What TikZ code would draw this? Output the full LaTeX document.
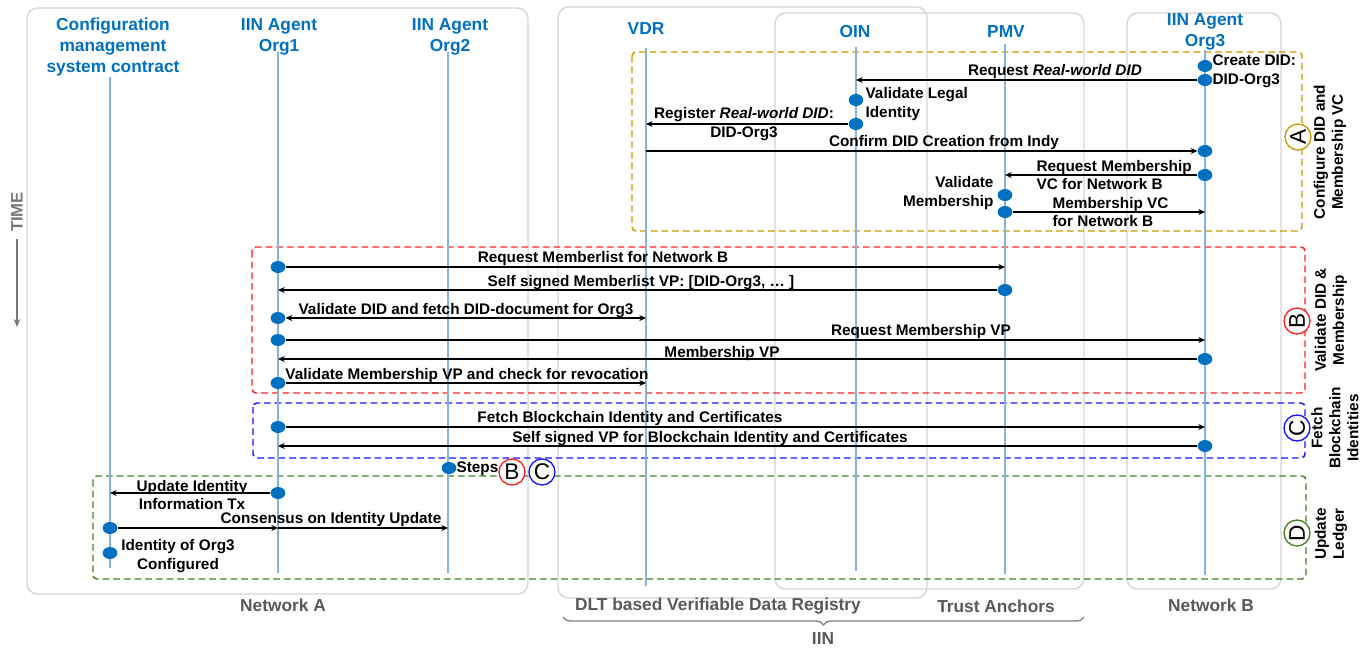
\documentclass[tikz,border=0pt]{standalone}
\usepackage{fontspec}
\setmainfont{Liberation Sans}
\usetikzlibrary{arrows.meta,shapes.geometric,decorations.pathreplacing}

\definecolor{hdblue}{RGB}{0,112,192}
\definecolor{lifeblue}{RGB}{130,180,225}
\definecolor{boxgray}{RGB}{214,214,214}
\definecolor{labgray}{RGB}{89,89,89}
\definecolor{timegray}{RGB}{120,120,120}
\definecolor{phaseA}{RGB}{204,153,0}
\definecolor{phaseB}{RGB}{255,30,30}
\definecolor{phaseC}{RGB}{20,20,255}
\definecolor{phaseD}{RGB}{70,125,40}

\tikzset{
	head/.style={text=hdblue, font=\bfseries\fontsize{13}{16}\selectfont, align=center},
	life/.style={draw=lifeblue, line width=1pt},
	zone/.style={draw=boxgray, line width=1.1pt, rounded corners=8pt},
	zonelabel/.style={text=labgray, font=\bfseries\fontsize{13}{15}\selectfont},
	phase/.style={draw=#1, dash pattern=on 5pt off 3pt, line width=1.1pt, rounded corners=3pt},
	tag/.style={circle, draw=#1, fill=white, line width=1pt, minimum size=19.5pt, inner sep=0pt, font=\fontsize{17}{17}\selectfont},
	dot/.style={ellipse, fill=hdblue, minimum width=11pt, minimum height=9pt, inner sep=0pt},
	msg/.style={draw=black, line width=0.9pt, -{Stealth[length=5pt,width=4.5pt]}},
	dmsg/.style={draw=black, line width=0.9pt, {Stealth[length=5pt,width=4.5pt]}-{Stealth[length=5pt,width=4.5pt]}},
	lbl/.style={font=\bfseries\fontsize{11.5}{14}\selectfont, inner sep=1pt},
	side/.style={font=\bfseries\fontsize{11.5}{13.5}\selectfont, inner sep=1pt, rotate=90, align=center},
}

\begin{document}
\begin{tikzpicture}[x=0.75pt,y=-0.75pt]
	\useasboundingbox (0,0) rectangle (1371,650);

	% Zones
	\draw[zone] (27,8) rectangle (528,594);
	\draw[zone] (558,7) rectangle (927,598);
	\draw[zone] (775,13) rectangle (1084,589);
	\draw[zone] (1127,13) rectangle (1281,589);
	\node[zonelabel] (netA) at (283,605) {Network A};
	\node[zonelabel] (dlt) at (718,606) {DLT based Verifiable Data Registry};
	\node[zonelabel] (trust) at (996,606) {Trust Anchors};
	\node[zonelabel] (netB) at (1211,605) {Network B};
	\draw[draw=gray, line width=1pt, decorate, decoration={brace, amplitude=6pt, mirror}] (563,617) -- (1084,617);
	\node[zonelabel] (iin) at (823,639) {IIN};

	% Phases
	\draw[phase=phaseA] (632,52) rectangle (1302,231);
	\draw[phase=phaseB] (252,247) rectangle (1305,393);
	\draw[phase=phaseC] (253,403) rectangle (1305,458);
	\draw[phase=phaseD] (93,476) rectangle (1306,579);

	% Lifelines
	\foreach \n/\x/\t/\b in {cfg/110/77/568, orgA/278/52/573, orgB/448/52/573, vdr/646/48/586, oin/856/47/571, pmv/1005/44/574, orgC/1205/50/575}
		\draw[life] (\x,\t) coordinate (\n) -- (\x,\b) coordinate (\n-end);

	% Headers
	\node[head] (cfg-head) at (113,47) {Configuration\\management\\system contract};
	\node[head] (orgA-head) at (279,37) {IIN Agent\\Org1};
	\node[head] (orgB-head) at (450,37) {IIN Agent\\Org2};
	\node[head] (vdr-head) at (646,29) {VDR};
	\node[head] (oin-head) at (855,32) {OIN};
	\node[head] (pmv-head) at (1006,32) {PMV};
	\node[head] (orgC-head) at (1205,32) {IIN Agent\\Org3};

	% Time axis
	\node[rotate=90, text=timegray, font=\bfseries\fontsize{12.5}{14}\selectfont] (time) at (17,212) {TIME};
	\coordinate (time-end) at (17,327);
	\draw[timegray, line width=1.2pt, -{Stealth[length=6pt,width=5pt]}, shorten <=2pt] (time.west) -- (time-end);

	% Phase A: configure DID and membership VC
	\node[dot] (a1) at (1205,66) {};
	\node[dot] (a2) at (1205,80) {};
	\node[lbl, anchor=west, align=left] at (1211,71) {Create DID:\\DID-Org3};
	\draw[msg] (a2) -- (a2 -| oin);
	\node[lbl] at (1055,72) {Request \textit{Real-world DID}};
	\node[dot] (a3) at (856,100) {};
	\node[lbl, anchor=west, align=left] at (864,104) {Validate Legal\\Identity};
	\node[dot] (a4) at (856,124) {};
	\draw[msg] (a4) -- (a4 -| vdr);
	\node[lbl, align=center] at (744,124) {Register \textit{Real-world DID}:\\DID-Org3};
	\node[dot] (a5) at (1205,151) {};
	\draw[msg] (a5 -| vdr) -- (a5);
	\node[lbl] at (944,143) {Confirm DID Creation from Indy};
	\node[dot] (a6) at (1205,175) {};
	\draw[msg] (a6) -- (a6 -| pmv);
	\node[lbl, anchor=west, align=left] at (1035,175) {Request Membership\\VC for Network B};
	\node[dot] (a7) at (1005,195) {};
	\node[lbl, anchor=east, align=right] at (995,193) {Validate\\Membership};
	\node[dot] (a8) at (1005,212) {};
	\draw[msg] (a8) -- (a8 -| orgC);
	\node[lbl, anchor=west, align=left] at (1051,212) {Membership VC\\for Network B};

	% Phase B: validate DID and membership
	\node[dot] (b1) at (278,267) {};
	\draw[msg] (b1) -- (b1 -| pmv);
	\node[lbl] at (603,259) {Request Memberlist for Network B};
	\node[dot] (b2) at (1005,290) {};
	\draw[msg] (b2) -- (b2 -| orgA);
	\node[lbl] at (641,283) {Self signed Memberlist VP: [DID-Org3, … ]};
	\node[dot] (b3) at (278,318) {};
	\draw[dmsg] (b3) -- (b3 -| vdr);
	\node[lbl] at (466,311) {Validate DID and fetch DID-document for Org3};
	\node[dot] (b4) at (278,340) {};
	\draw[msg] (b4) -- (b4 -| orgC);
	\node[lbl] at (921,332) {Request Membership VP};
	\node[dot] (b5) at (1205,359) {};
	\draw[msg] (b5) -- (b5 -| orgA);
	\node[lbl] at (722,354) {Membership VP};
	\node[dot] (b6) at (278,383) {};
	\draw[msg] (b6) -- (b6 -| vdr);
	\node[lbl] at (467,376) {Validate Membership VP and check for revocation};

	% Phase C: fetch blockchain identities
	\node[dot] (c1) at (278,427) {};
	\draw[msg] (c1) -- (c1 -| orgC);
	\node[lbl] at (630,419) {Fetch Blockchain Identity and Certificates};
	\node[dot] (c2) at (1205,446) {};
	\draw[msg] (c2) -- (c2 -| orgA);
	\node[lbl] at (710,439) {Self signed VP for Blockchain Identity and Certificates};

	% Steps B and C
	\node[dot] (steps) at (449,468) {};
	\node[lbl, anchor=west] (steps-txt) at (455,469) {Steps};
	\node[tag=phaseB] (steps-b) at (512,472) {B};
	\node[tag=phaseC] (steps-c) at (542,472) {C};

	% Phase D: update ledger
	\node[dot] (d1) at (278,493) {};
	\draw[msg] (d1) -- (d1 -| cfg);
	\node[lbl, align=center] at (192,495) {Update Identity\\Information Tx};
	\node[dot] (d2) at (110,528) {};
	\draw[msg] (d2) -- (d2 -| orgA);
	\draw[msg] (d2 -| orgA) -- (d2 -| orgB);
	\node[lbl] at (331,520) {Consensus on Identity Update};
	\node[dot] (d3) at (110,553) {};
	\node[lbl, align=center] at (178,556) {Identity of Org3\\Configured};

	% Phase tags
	\node[tag=phaseA, rotate=90] (tagA) at (1298,137) {A};
	\node[side] at (1330,152) {Configure DID and\\Membership VC};
	\node[tag=phaseB, rotate=90] (tagB) at (1297,321) {B};
	\node[side] at (1331,320) {Validate DID \&\\Membership};
	\node[tag=phaseC, rotate=90] (tagC) at (1297,428) {C};
	\node[side] at (1335,428) {Fetch\\Blockchain\\Identities};
	\node[tag=phaseD, rotate=90] (tagD) at (1297,533) {D};
	\node[side] at (1331,534) {Update\\Ledger};
\end{tikzpicture}
\end{document}
